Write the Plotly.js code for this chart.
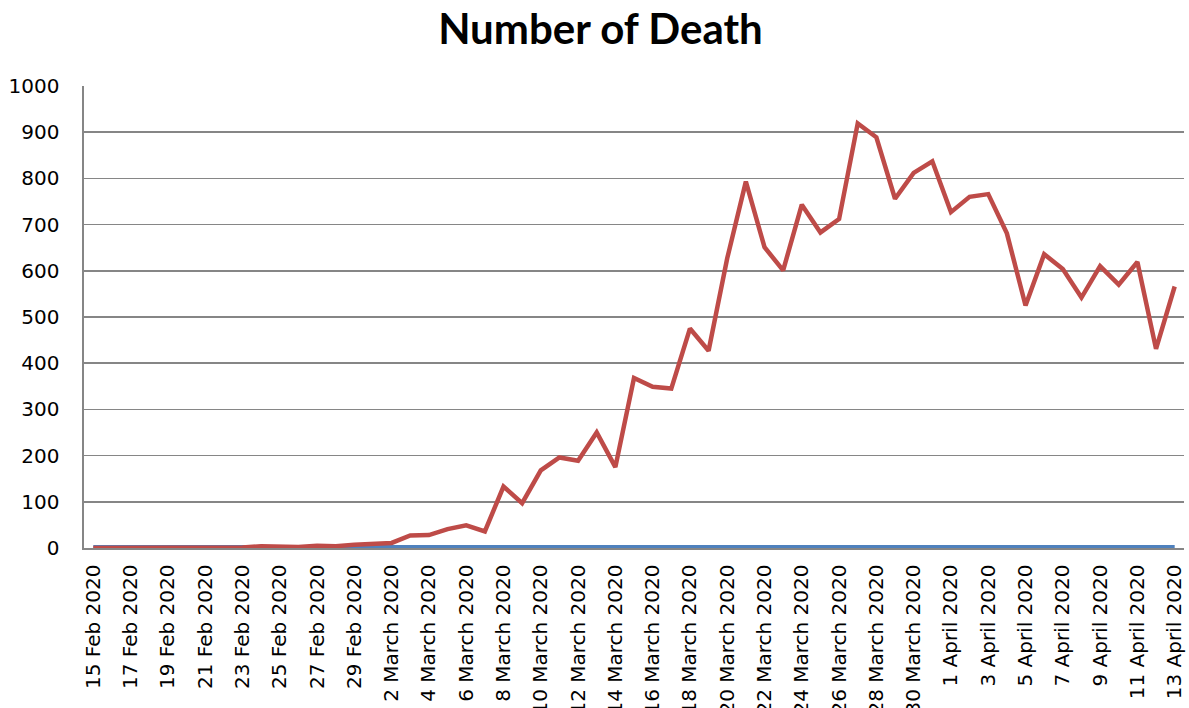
<!DOCTYPE html>
<html>
<head>
<meta charset="utf-8">
<script src="https://cdn.plot.ly/plotly-3.0.1.min.js"></script>
<style>
html, body { margin: 0; padding: 0; background: #fff; overflow: hidden; }
#chart { width: 1189px; height: 708px; }
</style>
</head>
<body>
<div id="chart"></div>
<script>
const dates = [
  "15 Feb 2020","16 Feb 2020","17 Feb 2020","18 Feb 2020","19 Feb 2020","20 Feb 2020","21 Feb 2020",
  "22 Feb 2020","23 Feb 2020","24 Feb 2020","25 Feb 2020","26 Feb 2020","27 Feb 2020","28 Feb 2020","29 Feb 2020",
  "1 March 2020","2 March 2020","3 March 2020","4 March 2020","5 March 2020","6 March 2020","7 March 2020",
  "8 March 2020","9 March 2020","10 March 2020","11 March 2020","12 March 2020","13 March 2020","14 March 2020",
  "15 March 2020","16 March 2020","17 March 2020","18 March 2020","19 March 2020","20 March 2020","21 March 2020",
  "22 March 2020","23 March 2020","24 March 2020","25 March 2020","26 March 2020","27 March 2020","28 March 2020",
  "29 March 2020","30 March 2020","31 March 2020",
  "1 April 2020","2 April 2020","3 April 2020","4 April 2020","5 April 2020","6 April 2020","7 April 2020",
  "8 April 2020","9 April 2020","10 April 2020","11 April 2020","12 April 2020","13 April 2020"
];

const deaths = [
  0, 0, 0, 0, 0, 0, 1, 1, 1, 4, 3, 2, 5, 4, 7,
  10, 11, 27, 28, 41, 49, 36, 133, 97, 168, 196, 189, 250, 175, 368, 349, 345, 475, 427, 627, 793,
  651, 601, 743, 683, 712, 919, 889, 756, 812, 837,
  727, 760, 766, 681, 525, 636, 604, 542, 610, 570, 619, 431, 566
];

const otherSeries = [
  0, 0, 0, 0, 0, 0, 0, 0, 0, 0, 0, 0, 0, 0, 0,
  0, 0, 0, 0, 0, 0, 0, 0, 0, 0, 0, 0, 0, 0, 0, 0, 0, 0, 0, 0, 0,
  0, 0, 0, 0, 0, 0, 0, 0, 0, 0,
  0, 0, 0, 0, 0, 0, 0, 0, 0, 0, 0, 0, 0
];

const yTicks = [0, 100, 200, 300, 400, 500, 600, 700, 800, 900, 1000];

const traces = [
  {
    x: dates, y: otherSeries, type: "scatter", mode: "lines",
    line: { color: "#4F81BD", width: 6 }, hoverinfo: "x+y", showlegend: false
  },
  {
    x: dates, y: deaths, type: "scatter", mode: "lines",
    line: { color: "#BE4B48", width: 4.5 }, hoverinfo: "x+y", showlegend: false
  }
];

const layout = {
  width: 1189, height: 708,
  paper_bgcolor: "#ffffff", plot_bgcolor: "#ffffff",
  margin: { l: 84, r: 5, t: 86, b: 160, pad: 0 },
  title: {
    text: "Number of Death",
    x: 0.505, xanchor: "center", y: 0.958, yanchor: "middle", yref: "container",
    font: { family: "Lato, 'Open Sans', sans-serif", size: 42, color: "#000", weight: "bold" }
  },
  xaxis: {
    type: "category",
    range: [-0.5, dates.length - 0.5],
    tickmode: "linear", tick0: 0, dtick: 2,
    tickangle: -90,
    ticks: "", ticklabelstandoff: 7,
    tickfont: { family: "DejaVu Sans, Verdana, sans-serif", size: 20, color: "#000" },
    showgrid: false, zeroline: false,
    showline: true, linecolor: "#868686", linewidth: 1.5, layer: "below traces",
    automargin: false, fixedrange: true
  },
  yaxis: {
    range: [0, 1000],
    tickmode: "array", tickvals: yTicks, ticktext: yTicks.map(String),
    ticks: "", ticklabelstandoff: 19,
    tickfont: { family: "DejaVu Sans, Verdana, sans-serif", size: 20, color: "#000" },
    showgrid: true, gridcolor: "#868686", gridwidth: 1.6,
    zeroline: false,
    showline: true, linecolor: "#868686", linewidth: 1.6,
    automargin: false, fixedrange: true
  },
  font: { family: "DejaVu Sans, sans-serif" }
};

Plotly.newPlot("chart", traces, layout, { displayModeBar: false, staticPlot: true });
</script>
</body>
</html>
